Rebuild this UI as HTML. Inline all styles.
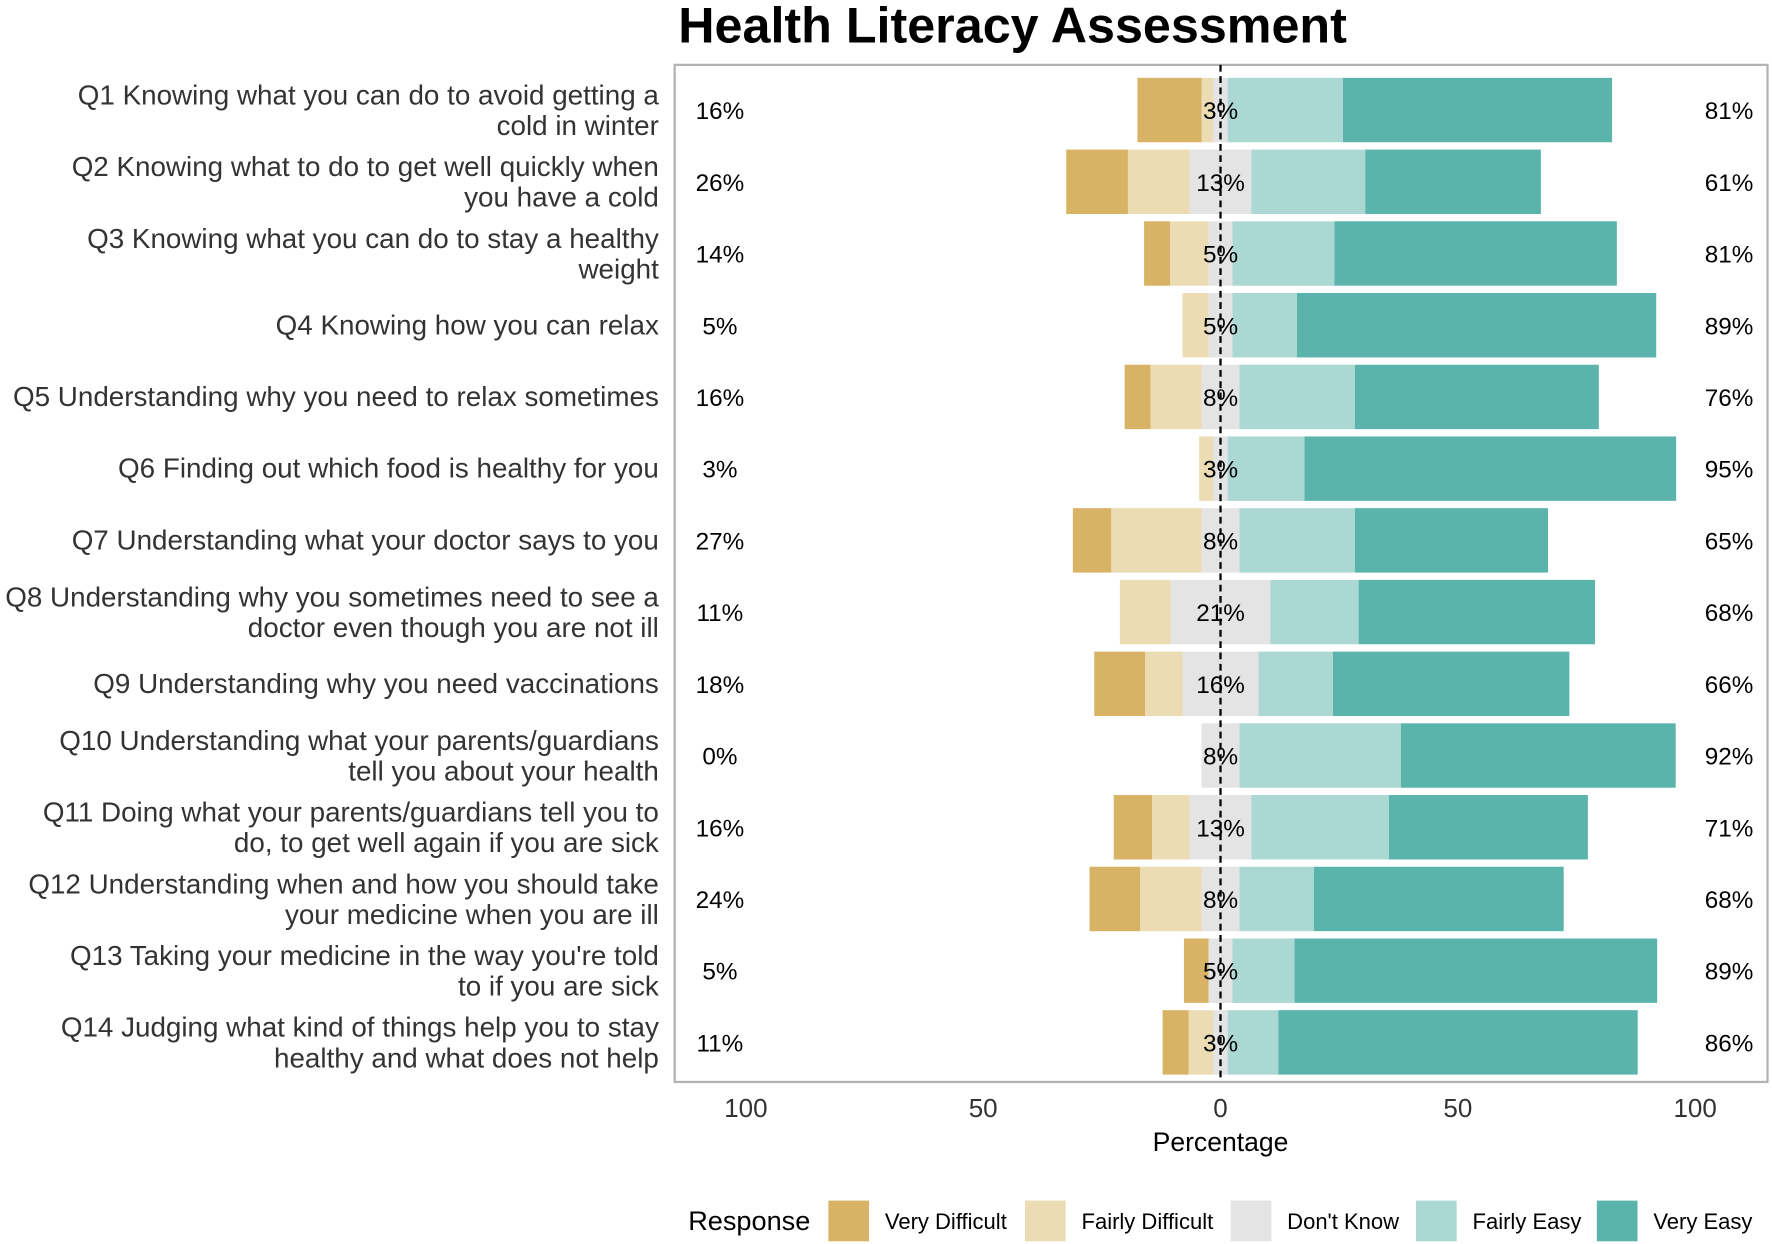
<!DOCTYPE html>
<html><head><meta charset="utf-8"><style>
html,body{margin:0;padding:0;background:#fff}
svg{display:block;font-family:"Liberation Sans",Arial,sans-serif}
</style></head><body>
<svg id="chart" width="1772" height="1244" viewBox="0 0 1568 1100" xmlns="http://www.w3.org/2000/svg">
<rect width="1568" height="1100" fill="#fff"/>
<text x="896" y="37" text-anchor="middle" font-size="44.5" font-weight="bold" fill="#000">Health Literacy Assessment</text>
<g id="plot"></g>
</svg>
<script>
const questions = [
 ["Q1 Knowing what you can do to avoid getting a","cold in winter"],
 ["Q2 Knowing what to do to get well quickly when","you have a cold"],
 ["Q3 Knowing what you can do to stay a healthy","weight"],
 ["Q4 Knowing how you can relax"],
 ["Q5 Understanding why you need to relax sometimes"],
 ["Q6 Finding out which food is healthy for you"],
 ["Q7 Understanding what your doctor says to you"],
 ["Q8 Understanding why you sometimes need to see a","doctor even though you are not ill"],
 ["Q9 Understanding why you need vaccinations"],
 ["Q10 Understanding what your parents/guardians","tell you about your health"],
 ["Q11 Doing what your parents/guardians tell you to","do, to get well again if you are sick"],
 ["Q12 Understanding when and how you should take","your medicine when you are ill"],
 ["Q13 Taking your medicine in the way you're told","to if you are sick"],
 ["Q14 Judging what kind of things help you to stay","healthy and what does not help"]
];
const veryDifficult   = [13.5,13,5.5,0,5.5,0,8.1,0,10.7,0,8.1,10.7,5.2,5.5];
const fairlyDifficult = [2.5,13,8.1,5.5,10.7,3,19,10.7,7.9,0,7.9,12.9,0,5.2];
const dontKnow        = [3,13,5,5,8,3,8,21,16,8,13,8,5,3];
const fairlyEasy      = [24.3,24,21.5,13.6,24.3,16.2,24.3,18.6,15.7,34,29,15.7,13.1,10.7];
const veryEasy        = [56.7,37,59.5,75.7,51.4,78.3,40.7,49.8,49.8,57.9,41.9,52.6,76.4,75.7];
const leftLabels  = ["16%","26%","14%","5%","16%","3%","27%","11%","18%","0%","16%","24%","5%","11%"];
const midLabels   = ["3%","13%","5%","5%","8%","3%","8%","21%","16%","8%","13%","8%","5%","3%"];
const rightLabels = ["81%","61%","81%","89%","76%","95%","65%","68%","66%","92%","71%","68%","89%","86%"];
const xTicks = [-100,-50,0,50,100];
const xTickLabels = ["100","50","0","50","100"];

const NS="http://www.w3.org/2000/svg";
const g=document.getElementById('plot');
const PL=597,PR=1564,PT=57,PB=957;
const x=v=>1080+v*4.2;
const Y0=97,Y1=922;
const y=i=>Y0+(Y1-Y0)*i/(questions.length-1);
const BH=57;
const colors={vd:"#d8b365",fd:"#ecdcb3",dk:"#e4e4e4",fe:"#acd8d4",ve:"#5ab4ac"};
function mk(tag,attrs,text){const e=document.createElementNS(NS,tag);for(const k in attrs)e.setAttribute(k,attrs[k]);if(text!=null)e.textContent=text;g.appendChild(e);return e;}

const panel=mk('rect',{x:PL,y:PT,width:PR-PL,height:PB-PT,fill:"#fff",stroke:"#b3b3b3","stroke-width":2});



questions.forEach((q,i)=>{
  const cy=y(i), top=cy-BH/2;
  const dk=dontKnow[i];
  const segs=[
    ['vd',-dk/2-fairlyDifficult[i]-veryDifficult[i],veryDifficult[i]],
    ['fd',-dk/2-fairlyDifficult[i],fairlyDifficult[i]],
    ['dk',-dk/2,dk],
    ['fe',dk/2,fairlyEasy[i]],
    ['ve',dk/2+fairlyEasy[i],veryEasy[i]]
  ];
  segs.forEach(([k,s,w])=>{
    if(w<=0)return;
    const r=mk('rect',{x:x(s),y:top,width:w*4.2,height:BH,fill:colors[k]});
    
    
  });
});
const zl=mk('line',{x1:x(0),x2:x(0),y1:PT,y2:PB,stroke:"#000","stroke-width":2,"stroke-dasharray":"6,4"});



questions.forEach((q,i)=>{
  const cy=y(i);
  const t=mk('text',{x:583,"text-anchor":"end","font-size":24.6,fill:"#333"});
  
  
  if(q.length===1){const s=document.createElementNS(NS,'tspan');s.setAttribute('x',583);s.setAttribute('y',cy+8);s.textContent=q[0];t.appendChild(s);}
  else q.forEach((line,j)=>{const s=document.createElementNS(NS,'tspan');s.setAttribute('x',583);s.setAttribute('y',cy-5+j*27);s.textContent=line;t.appendChild(s);});
  const l=mk('text',{x:637,y:cy+8,"text-anchor":"middle","font-size":21.5,fill:"#000"},leftLabels[i]);
  
  
  const m=mk('text',{x:1080,y:cy+8,"text-anchor":"middle","font-size":21.5,fill:"#000"},midLabels[i]);
  
  
  const rr=mk('text',{x:1530,y:cy+8,"text-anchor":"middle","font-size":21.5,fill:"#000"},rightLabels[i]);
  
  
});
xTicks.forEach((v,i)=>{
  const t=mk('text',{x:x(v),y:988,"text-anchor":"middle","font-size":23,fill:"#333"},xTickLabels[i]);
  
  
});
const xt=mk('text',{x:1080,y:1018,"text-anchor":"middle","font-size":23.5,fill:"#000"},"Percentage");



const lt=mk('text',{x:609,y:1088,"font-size":24,fill:"#000"},"Response");


const legend=[["vd","Very Difficult",733],["fd","Fairly Difficult",907],["dk","Don't Know",1089],["fe","Fairly Easy",1253],["ve","Very Easy",1413]];
legend.forEach(([k,name,lx])=>{
  const r=mk('rect',{x:lx,y:1062,width:36,height:36,fill:colors[k]});
  
  
  const t=mk('text',{x:lx+50,y:1087,"font-size":19.5,fill:"#000"},name);
  
  
});
</script>
</body></html>
